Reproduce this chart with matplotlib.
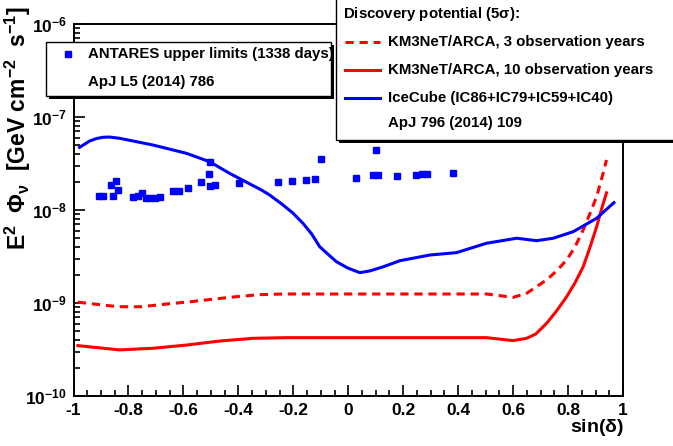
import numpy as np
import matplotlib
matplotlib.use("Agg")
import matplotlib.pyplot as plt
from matplotlib.patches import Rectangle
from matplotlib.lines import Line2D
from matplotlib.ticker import FixedLocator, MultipleLocator, LogLocator, NullFormatter

plt.rcParams['font.family'] = ['Liberation Sans', 'DejaVu Sans']
plt.rcParams['font.weight'] = 'bold'
plt.rcParams['mathtext.fontset'] = 'custom'
plt.rcParams['mathtext.rm'] = 'Liberation Sans:bold'
plt.rcParams['mathtext.bf'] = 'Liberation Sans:bold'
plt.rcParams['mathtext.it'] = 'Liberation Sans:bold'
plt.rcParams['mathtext.default'] = 'bf'

# ANTARES upper limits (points)
antares_sin = [-0.906, -0.893, -0.857, -0.865, -0.844, -0.838,
               -0.784, -0.766, -0.751, -0.737, -0.723, -0.705, -0.684,
               -0.638, -0.616, -0.583, -0.535, -0.508, -0.502, -0.502, -0.485,
               -0.398, -0.256, -0.205, -0.152, -0.121, -0.100,
               0.027, 0.090, 0.109, 0.100, 0.179, 0.246, 0.267, 0.288, 0.382]
antares_flux = [1.43e-8, 1.43e-8, 1.43e-8, 1.86e-8, 2.05e-8, 1.64e-8,
                1.39e-8, 1.41e-8, 1.51e-8, 1.36e-8, 1.34e-8, 1.36e-8, 1.39e-8,
                1.61e-8, 1.61e-8, 1.71e-8, 2.01e-8, 2.42e-8, 3.28e-8, 1.82e-8, 1.88e-8,
                1.94e-8, 1.99e-8, 2.05e-8, 2.09e-8, 2.13e-8, 3.51e-8,
                2.22e-8, 2.36e-8, 2.36e-8, 4.45e-8, 2.34e-8, 2.36e-8, 2.44e-8, 2.42e-8, 2.52e-8]

# IceCube discovery potential
icecube_sin = [-0.978, -0.941, -0.916, -0.893, -0.869, -0.832, -0.711, -0.589, -0.504,
               -0.432, -0.316, -0.286, -0.237, -0.202, -0.165, -0.133, -0.104, -0.075,
               -0.043, -0.002, 0.042, 0.078, 0.127, 0.188, 0.297,
               0.394, 0.503, 0.613, 0.686, 0.746, 0.819, 0.904, 0.967]
icecube_flux = [4.72e-8, 5.52e-8, 5.87e-8, 6.05e-8, 6.09e-8, 5.90e-8, 5.00e-8, 4.07e-8, 3.30e-8,
                2.48e-8, 1.64e-8, 1.45e-8, 1.13e-8, 9.30e-9, 7.20e-9, 5.52e-9, 4.03e-9, 3.37e-9,
                2.78e-9, 2.38e-9, 2.12e-9, 2.21e-9, 2.45e-9, 2.85e-9, 3.28e-9,
                3.48e-9, 4.39e-9, 4.97e-9, 4.68e-9, 4.97e-9, 5.85e-9, 8.15e-9, 1.20e-8]

# KM3NeT/ARCA 3 years (dashed)
arca3_sin = [-0.984, -0.838, -0.753, -0.662, -0.577, -0.492, -0.407, -0.322, -0.237,
             -0.007, 0.503, 0.600, 0.649, 0.722, 0.758, 0.795, 0.825, 0.855, 0.879,
             0.904, 0.923, 0.940]
arca3_flux = [1.02e-9, 9.12e-10, 9.12e-10, 9.75e-10, 1.03e-9, 1.10e-9, 1.17e-9, 1.23e-9, 1.25e-9,
              1.25e-9, 1.25e-9, 1.15e-9, 1.27e-9, 1.77e-9, 2.21e-9, 2.90e-9, 4.00e-9, 6.10e-9,
              9.05e-9, 1.39e-8, 2.21e-8, 3.45e-8]

# KM3NeT/ARCA 10 years (solid)
arca10_sin = [-0.984, -0.832, -0.711, -0.589, -0.468, -0.347, -0.225, -0.007,
              0.503, 0.600, 0.649, 0.683, 0.722, 0.758, 0.795, 0.825, 0.855, 0.879,
              0.904, 0.923, 0.940]
arca10_flux = [3.48e-10, 3.13e-10, 3.26e-10, 3.53e-10, 3.90e-10, 4.17e-10, 4.24e-10, 4.24e-10,
               4.24e-10, 3.94e-10, 4.17e-10, 4.65e-10, 6.05e-10, 8.20e-10, 1.17e-9, 1.64e-9,
               2.45e-9, 3.90e-9, 6.60e-9, 1.05e-8, 1.53e-8]

W, H = 673, 446
fig = plt.figure(figsize=(W / 100, H / 100), dpi=100)
ax = fig.add_axes([73.5 / W, 1 - 396 / H, (623 - 73.5) / W, (396 - 24) / H])

red = (1, 0, 0)
blue = (0, 0, 1)
dash = (2.7, 1.9)
ax.plot(arca3_sin, arca3_flux, color=red, lw=2.2, dashes=dash)
ax.plot(arca10_sin, arca10_flux, color=red, lw=2.2)
ax.plot(icecube_sin, icecube_flux, color=blue, lw=2.2)
ax.plot(antares_sin, antares_flux, 's', color=blue, ms=5, mec=blue)

ax.set_yscale('log')
ax.set_xlim(-1, 1)
ax.set_ylim(1e-10, 1e-6)

ax.xaxis.set_minor_locator(MultipleLocator(0.05))
ax.set_xticks(np.arange(-1, 1.01, 0.2))
ax.set_xticklabels(['-1', '-0.8', '-0.6', '-0.4', '-0.2', '0', '0.2', '0.4', '0.6', '0.8', '1'])
ax.yaxis.set_major_locator(FixedLocator([1e-10, 1e-9, 1e-8, 1e-7, 1e-6]))
ax.set_yticklabels([r'$10^{-10}$', r'$10^{-9}$', r'$10^{-8}$', r'$10^{-7}$', r'$10^{-6}$'])
ax.yaxis.set_minor_locator(LogLocator(base=10, subs=np.arange(2, 10), numticks=20))
ax.yaxis.set_minor_formatter(NullFormatter())

ax.tick_params(which='both', direction='in', top=False, right=False,
               labelsize=12.5, width=1.2, pad=5)
ax.tick_params(which='major', length=8)
ax.tick_params(which='minor', length=4)
for s in ax.spines.values():
    s.set_linewidth(1.4)

fig.text(18 / W, 1 - 6 / H, r'E$^{2}$  $\Phi_{\nu}$  [GeV cm$^{-2}$  s$^{-1}$]',
         rotation=90, ha='center', va='top', fontsize=16.5, fontweight='bold')
fig.text(624 / W, 1 - 428 / H, r'sin($\delta$)', ha='right', va='center',
         fontsize=14, fontweight='bold')


def box(x0, y0, x1, y1):
    # pixel coords from top-left, with a ROOT-style shadow
    fig.patches.append(Rectangle(((x0 + 3) / W, 1 - (y1 + 3) / H), (x1 - x0) / W, (y1 - y0) / H,
                                 transform=fig.transFigure, facecolor='black',
                                 edgecolor='black', lw=0, zorder=5))
    fig.patches.append(Rectangle((x0 / W, 1 - y1 / H), (x1 - x0) / W, (y1 - y0) / H,
                                 transform=fig.transFigure, facecolor='white',
                                 edgecolor='black', lw=1.0, zorder=6))


box(46, 42, 331, 96)
box(336, -5, 680, 140)

fs = 10.8
fig.lines.append(Line2D([68 / W], [1 - 54 / H], marker='s', color=blue, ms=5,
                        transform=fig.transFigure, zorder=7))
fig.text(88 / W, 1 - 54 / H, 'ANTARES upper limits (1338 days)', va='center',
         fontsize=fs, fontweight='bold', zorder=7)
fig.text(88 / W, 1 - 82 / H, 'ApJ L5 (2014) 786', va='center',
         fontsize=fs, fontweight='bold', zorder=7)

fig.text(343 / W, 1 - 14 / H, r'Discovery potential (5$\sigma$):', va='center',
         fontsize=fs, fontweight='bold', zorder=7)
ys = [42, 70, 98]
labels = ['KM3NeT/ARCA, 3 observation years', 'KM3NeT/ARCA, 10 observation years',
          'IceCube (IC86+IC79+IC59+IC40)']
styles = [(red, dash), (red, None), (blue, None)]
for y, lab, (c, d) in zip(ys, labels, styles):
    ln = Line2D([345 / W, 380 / W], [1 - y / H, 1 - y / H], color=c, lw=2.2,
                transform=fig.transFigure, zorder=7)
    if d:
        ln.set_dashes(d)
    fig.lines.append(ln)
    fig.text(388 / W, 1 - y / H, lab, va='center', fontsize=fs, fontweight='bold', zorder=7)
fig.text(388 / W, 1 - 123 / H, 'ApJ 796 (2014) 109', va='center',
         fontsize=fs, fontweight='bold', zorder=7)

fig.savefig('out.png', dpi=100)
